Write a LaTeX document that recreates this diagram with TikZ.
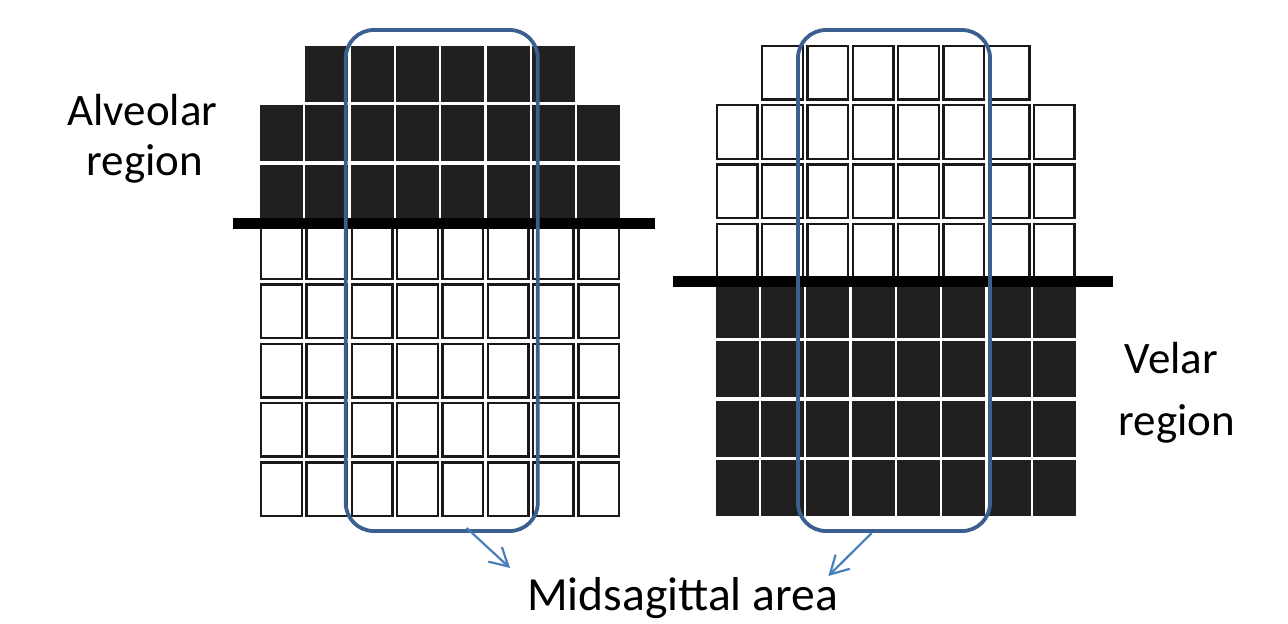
\documentclass[tikz,border=0pt]{standalone}
\usepackage{fontspec}
\setmainfont{Carlito}
\usetikzlibrary{arrows.meta}
\definecolor{cellblack}{RGB}{32,32,32}
\definecolor{zoneblue}{RGB}{59,96,143}
\definecolor{arrowblue}{RGB}{74,126,187}
% one electrode cell: #1 x, #2 y (top-left, px), #3 b = contact, w = no contact
\newcommand\padcell[3]{%
  \if#3b\fill[bcell] (#1,#2) rectangle ++(43,56);%
  \else\draw[wcell] ({#1+1.2},{#2+1.2}) rectangle ++(40.6,53.6);\fi}
\begin{document}
\begin{tikzpicture}[x=0.5pt,y=-0.5pt,
  wcell/.style={draw=black!90,fill=white,line width=1.2pt},
  bcell/.style={fill=cellblack},
  divider/.style={fill=black},
  zone/.style={draw=zoneblue,line width=1.9pt,rounded corners=14pt,
    minimum width=96pt,minimum height=250.5pt,inner sep=0pt},
  pointer/.style={draw=arrowblue,line width=1.1pt,
    -{Straight Barb[length=9pt,width=10pt]}},
  lbl/.style={font=\fontsize{22.5}{27}\selectfont,inner sep=0pt,anchor=base},
  biglbl/.style={font=\fontsize{23.8}{28}\selectfont,inner sep=0pt,anchor=base}
]
\useasboundingbox (0,0) rectangle (1288,623);

% left palate: alveolar contact (front three rows)
\foreach \c in {1,...,6}{\pgfmathsetmacro\xx{260+\c*45.3}\padcell{\xx}{46}{b}}
\foreach \r in {1,...,7}{\foreach \c in {0,...,7}{%
  \pgfmathsetmacro\xx{260+\c*45.3}\pgfmathsetmacro\yy{46+\r*59.3}%
  \ifnum\r<3 \padcell{\xx}{\yy}{b}\else\padcell{\xx}{\yy}{w}\fi}}
\fill[divider] (233,218) rectangle (655,229);

% right palate: velar contact (back four rows)
\foreach \c in {1,...,6}{\pgfmathsetmacro\xx{715.7+\c*45.3}\padcell{\xx}{44.7}{w}}
\foreach \r in {1,...,7}{\foreach \c in {0,...,7}{%
  \pgfmathsetmacro\xx{715.7+\c*45.3}\pgfmathsetmacro\yy{44.7+\r*59.3}%
  \ifnum\r<4 \padcell{\xx}{\yy}{w}\else\padcell{\xx}{\yy}{b}\fi}}
\fill[divider] (673,276) rectangle (1113,287);

% midsagittal columns
\node[zone] (lzone) at (441.75,280.5) {};
\node[zone] (rzone) at (894,280.5) {};

% labels
\node[lbl] (alv) at (142.5,125) {Alveolar};
\node[lbl] (alvr) at (145,175) {region};
\node[lbl] (vel) at (1171.5,373.3) {Velar};
\node[lbl] (velr) at (1177,435) {region};
\node[biglbl] (mid) at (682.5,610) {Midsagittal area};

% pointers from the zones to the caption
\coordinate (lfrom) at (466.7,528);
\coordinate (lto) at (510,568);
\coordinate (rfrom) at (871.7,533);
\coordinate (rto) at (828.3,576);
\draw[pointer] (lfrom) -- (lto);
\draw[pointer] (rfrom) -- (rto);
\end{tikzpicture}
\end{document}
